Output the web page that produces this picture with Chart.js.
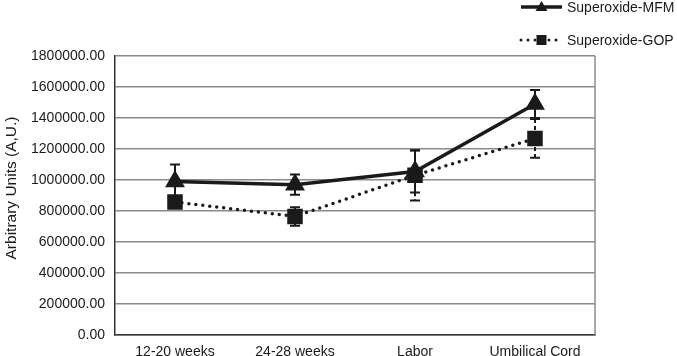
<!DOCTYPE html>
<html><head><meta charset="utf-8">
<script src="https://cdn.jsdelivr.net/npm/chart.js@4"></script>
<style>html,body{margin:0;padding:0;background:#fff}#wrap{width:677px;height:356px}</style>
</head><body><div id="wrap"><canvas id="c" width="677" height="356"></canvas></div>
<script>
const categories = ["12-20 weeks", "24-28 weeks", "Labor", "Umbilical Cord"];
const mfmValues = [990000, 970000, 1055000, 1490000];
const mfmErrors = [110000, 65000, 135000, 90000];
const gopValues = [858000, 765000, 1030000, 1268000];
const gopErrors = [30000, 60000, 162000, 125000];
const yTicks = [0, 200000, 400000, 600000, 800000, 1000000, 1200000, 1400000, 1600000, 1800000];
const seriesNames = ["Superoxide-MFM", "Superoxide-GOP"];
const yTitle = "Arbitrary Units (A,U.)";

const FONT = "'Liberation Sans', Arial, sans-serif";
const INK = '#1a1a1a';

const errorBars = {
  id: 'errorBars',
  beforeDatasetsDraw(chart) {
    const ctx = chart.ctx, ys = chart.scales.y;
    const errs = [mfmErrors, gopErrors];
    chart.data.datasets.forEach((ds, di) => {
      const meta = chart.getDatasetMeta(di);
      ctx.save();
      ctx.strokeStyle = INK;
      ctx.lineWidth = 2;
      meta.data.forEach((pt, i) => {
        const v = ds.data[i], e = errs[di][i];
        const yt = ys.getPixelForValue(v + e), yb = ys.getPixelForValue(v - e);
        const x = pt.x;
        if (di === 1) ctx.setLineDash([4, 3]); else ctx.setLineDash([]);
        ctx.beginPath(); ctx.moveTo(x, yt); ctx.lineTo(x, yb); ctx.stroke();
        ctx.setLineDash([]);
        ctx.beginPath();
        ctx.moveTo(x - 5, yt); ctx.lineTo(x + 5, yt);
        ctx.moveTo(x - 5, yb); ctx.lineTo(x + 5, yb);
        ctx.stroke();
      });
      ctx.restore();
    });
  }
};

const customLegend = {
  id: 'customLegend',
  afterDraw(chart) {
    const ctx = chart.ctx;
    const items = [
      {y: 7, dash: false, style: 'triangle'},
      {y: 40, dash: true, style: 'rect'}
    ];
    items.forEach((it, k) => {
      ctx.save();
      ctx.strokeStyle = INK; ctx.fillStyle = INK;
      const x0 = 521, x1 = 562, xm = (x0 + x1) / 2;
      if (it.dash) {
        ctx.lineWidth = 3; ctx.lineCap = 'round'; ctx.setLineDash([0, 7]);
      } else { ctx.lineWidth = 3.5; }
      ctx.beginPath(); ctx.moveTo(x0, it.y); ctx.lineTo(x1, it.y); ctx.stroke();
      ctx.setLineDash([]);
      if (it.style === 'triangle') {
        ctx.beginPath(); ctx.moveTo(xm, it.y - 6); ctx.lineTo(xm + 6, it.y + 4); ctx.lineTo(xm - 6, it.y + 4); ctx.closePath(); ctx.fill();
      } else {
        ctx.fillRect(xm - 5, it.y - 5, 10, 10);
      }
      ctx.font = '14px ' + FONT;
      ctx.textBaseline = 'middle';
      ctx.fillStyle = INK;
      ctx.fillText(seriesNames[k], 567, it.y + 1);
      ctx.restore();
    });
    // y-axis title
    ctx.save();
    ctx.translate(12, 188);
    ctx.rotate(-Math.PI / 2);
    ctx.font = '15.5px ' + FONT;
    ctx.fillStyle = INK;
    ctx.textAlign = 'center';
    ctx.textBaseline = 'middle';
    ctx.fillText(yTitle, 0, 0);
    ctx.restore();
  }
};

new Chart(document.getElementById('c'), {
  type: 'line',
  data: {
    labels: categories,
    datasets: [
      {
        label: seriesNames[0], data: mfmValues,
        borderColor: INK, backgroundColor: INK, borderWidth: 3.5,
        pointStyle: 'triangle', pointRadius: 8, pointHoverRadius: 8,
        tension: 0
      },
      {
        label: seriesNames[1], data: gopValues,
        borderColor: INK, backgroundColor: INK, borderWidth: 3.5,
        borderDash: [0, 7], borderCapStyle: 'round',
        pointStyle: 'rect', pointRadius: 8.5, pointHoverRadius: 8.5,
        tension: 0
      }
    ]
  },
  options: {
    responsive: false, animation: false,
    layout: {padding: {top: 56, right: 82, left: 22, bottom: 0}},
    plugins: {legend: {display: false}, tooltip: {enabled: false}},
    scales: {
      x: {
        offset: true,
        afterFit(scale) { scale.height = 21; },
        grid: {display: false, drawTicks: false},
        border: {color: '#333', width: 1.5},
        ticks: {color: INK, font: {family: FONT, size: 14}, padding: 9, maxRotation: 0}
      },
      y: {
        min: 0, max: 1800000,
        afterBuildTicks(axis) { axis.ticks = yTicks.map(v => ({value: v})); },
        afterFit(scale) { scale.width = 93; },
        grid: {color: '#8a8a8a', lineWidth: 1.5, drawTicks: false},
        border: {color: '#333', width: 1.5},
        ticks: {color: INK, font: {family: FONT, size: 14}, padding: 10,
          callback: v => Number(v).toFixed(2)},
        title: {display: false}
      }
    }
  },
  plugins: [errorBars, customLegend, {
    id: 'rightBorder',
    afterDraw(chart) {
      const {ctx, chartArea: a} = chart;
      ctx.save(); ctx.strokeStyle = '#8a8a8a'; ctx.lineWidth = 1.5;
      ctx.beginPath(); ctx.moveTo(a.right, a.top); ctx.lineTo(a.right, a.bottom); ctx.stroke();
      ctx.restore();
    }
  }]
});
</script></body></html>
